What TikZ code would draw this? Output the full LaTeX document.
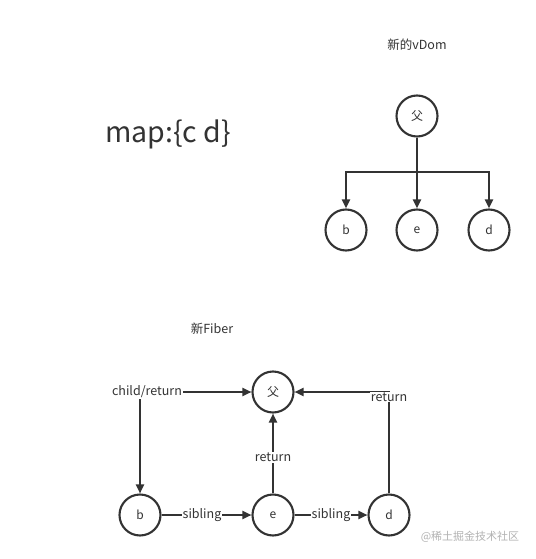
\documentclass[tikz,border=0pt]{standalone}
\usepackage{fontspec}
\setmainfont{Noto Sans CJK SC}
\usetikzlibrary{arrows.meta}
\definecolor{ink}{HTML}{333333}
\tikzset{
  circ/.style={circle,draw=ink,line width=2.1pt,minimum size=41pt,inner sep=0pt,font=\fontsize{12}{14}\selectfont,text=ink,fill=white},
  lab/.style={font=\fontsize{12.5}{14}\selectfont,text=ink,inner sep=1pt,fill=white},
  edge/.style={draw=ink,line width=1.9pt,-{Triangle[length=9pt,width=8pt]}},
  plain/.style={draw=ink,line width=1.9pt},
}
\begin{document}
\begin{tikzpicture}[x=1pt,y=-1pt]
\useasboundingbox (0,0) rectangle (535,559);
% top tree
\node[lab] (t1) at (417,45) {新的vDom};
\node[font=\fontsize{28.5}{31}\selectfont,text=ink] (map) at (168,134) {map:\{c d\}};
\node[circ] (p) at (417,116) {父};
\node[circ] (b1) at (346,230) {b};
\node[circ] (e1) at (417,230) {e};
\node[circ] (d1) at (489,230) {d};
\coordinate (br) at (417,172);
\draw[plain,line width=2.4pt] (p.south) -- (br);
\draw[edge,line width=2.4pt] (br) -| (b1.north);
\draw[edge,line width=2.4pt] (br) -- (e1.north);
\draw[edge,line width=2.4pt] (br) -| (d1.north);
% bottom fiber
\node[lab] (t2) at (212,329) {新Fiber};
\node[circ] (P) at (273,392) {父};
\node[circ] (B) at (140,515) {b};
\node[circ] (E) at (273,515) {e};
\node[circ] (D) at (389,515) {d};
\coordinate (cl) at (140,392);
\coordinate (cr) at (389,392);
\draw[edge] (cl) -- (P.west);
\draw[edge] (cl) -- (B.north);
\node[lab] (cr1) at (147,392) {child/return};
\draw[edge] (E.north) -- node[lab,pos=0.45] (r2) {return} (P.south);
\draw[edge] (D.north) -- (cr) -- (P.east);
\node[lab] (r3) at (389,397) {return};
\draw[edge] (B.east) -- node[lab,pos=0.45] (s1) {sibling} (E.west);
\draw[edge] (E.east) -- node[lab,pos=0.5] (s2) {sibling} (D.west);
\node[font=\fontsize{11}{12}\selectfont,text=black!30] (wm) at (470,537) {@稀土掘金技术社区};
\end{tikzpicture}
\end{document}
